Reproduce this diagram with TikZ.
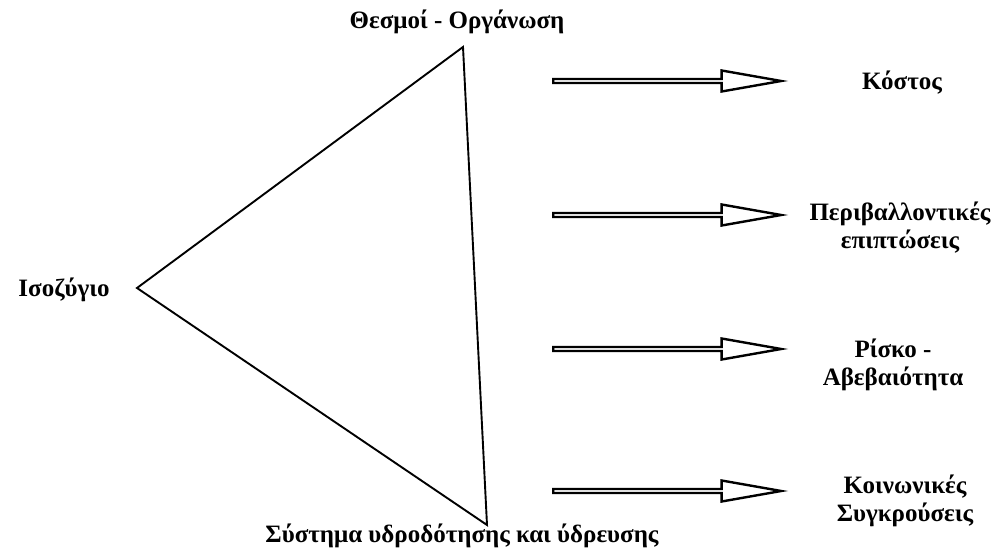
\documentclass[tikz,border=0pt]{standalone}
\usepackage{fontspec}
\setmainfont{Liberation Serif}
\usetikzlibrary{shapes.arrows}
\tikzset{
  lbl/.style={font=\fontsize{25}{28}\selectfont\bfseries, align=center},
  blockarrow/.style={single arrow, draw, line width=2.4pt, minimum height=228pt,
    minimum width=21pt, single arrow head extend=5pt, single arrow tip angle=20,
    inner sep=0pt, anchor=west}
}
\begin{document}
\begin{tikzpicture}[x=1pt,y=-1pt]
  \useasboundingbox (0,0) rectangle (1003,553);
  % triangle
  \coordinate (left) at (137,288);
  \coordinate (top) at (463,47);
  \coordinate (bottom) at (487,525);
  \draw[line width=1.9pt, line join=miter] (left) -- (top) -- (bottom) -- cycle;
  \node[lbl] (inst) at (457,22) {Θεσμοί - Οργάνωση};
  \node[lbl] (bal) at (64,290) {Ισοζύγιο};
  \node[lbl] (sys) at (462,536) {Σύστημα υδροδότησης και ύδρευσης};
  % arrows
  \node[blockarrow] (a1) at (552,81) {};
  \node[blockarrow] (a2) at (552,215) {};
  \node[blockarrow] (a3) at (552,349) {};
  \node[blockarrow] (a4) at (552,491) {};
  \node[lbl] (cost) at (902,83) {Κόστος};
  \node[lbl] (env) at (900,228) {Περιβαλλοντικές\\επιπτώσεις};
  \node[lbl] (risk) at (893,365) {Ρίσκο -\\Αβεβαιότητα};
  \node[lbl] (soc) at (905,501) {Κοινωνικές\\Συγκρούσεις};
\end{tikzpicture}
\end{document}
